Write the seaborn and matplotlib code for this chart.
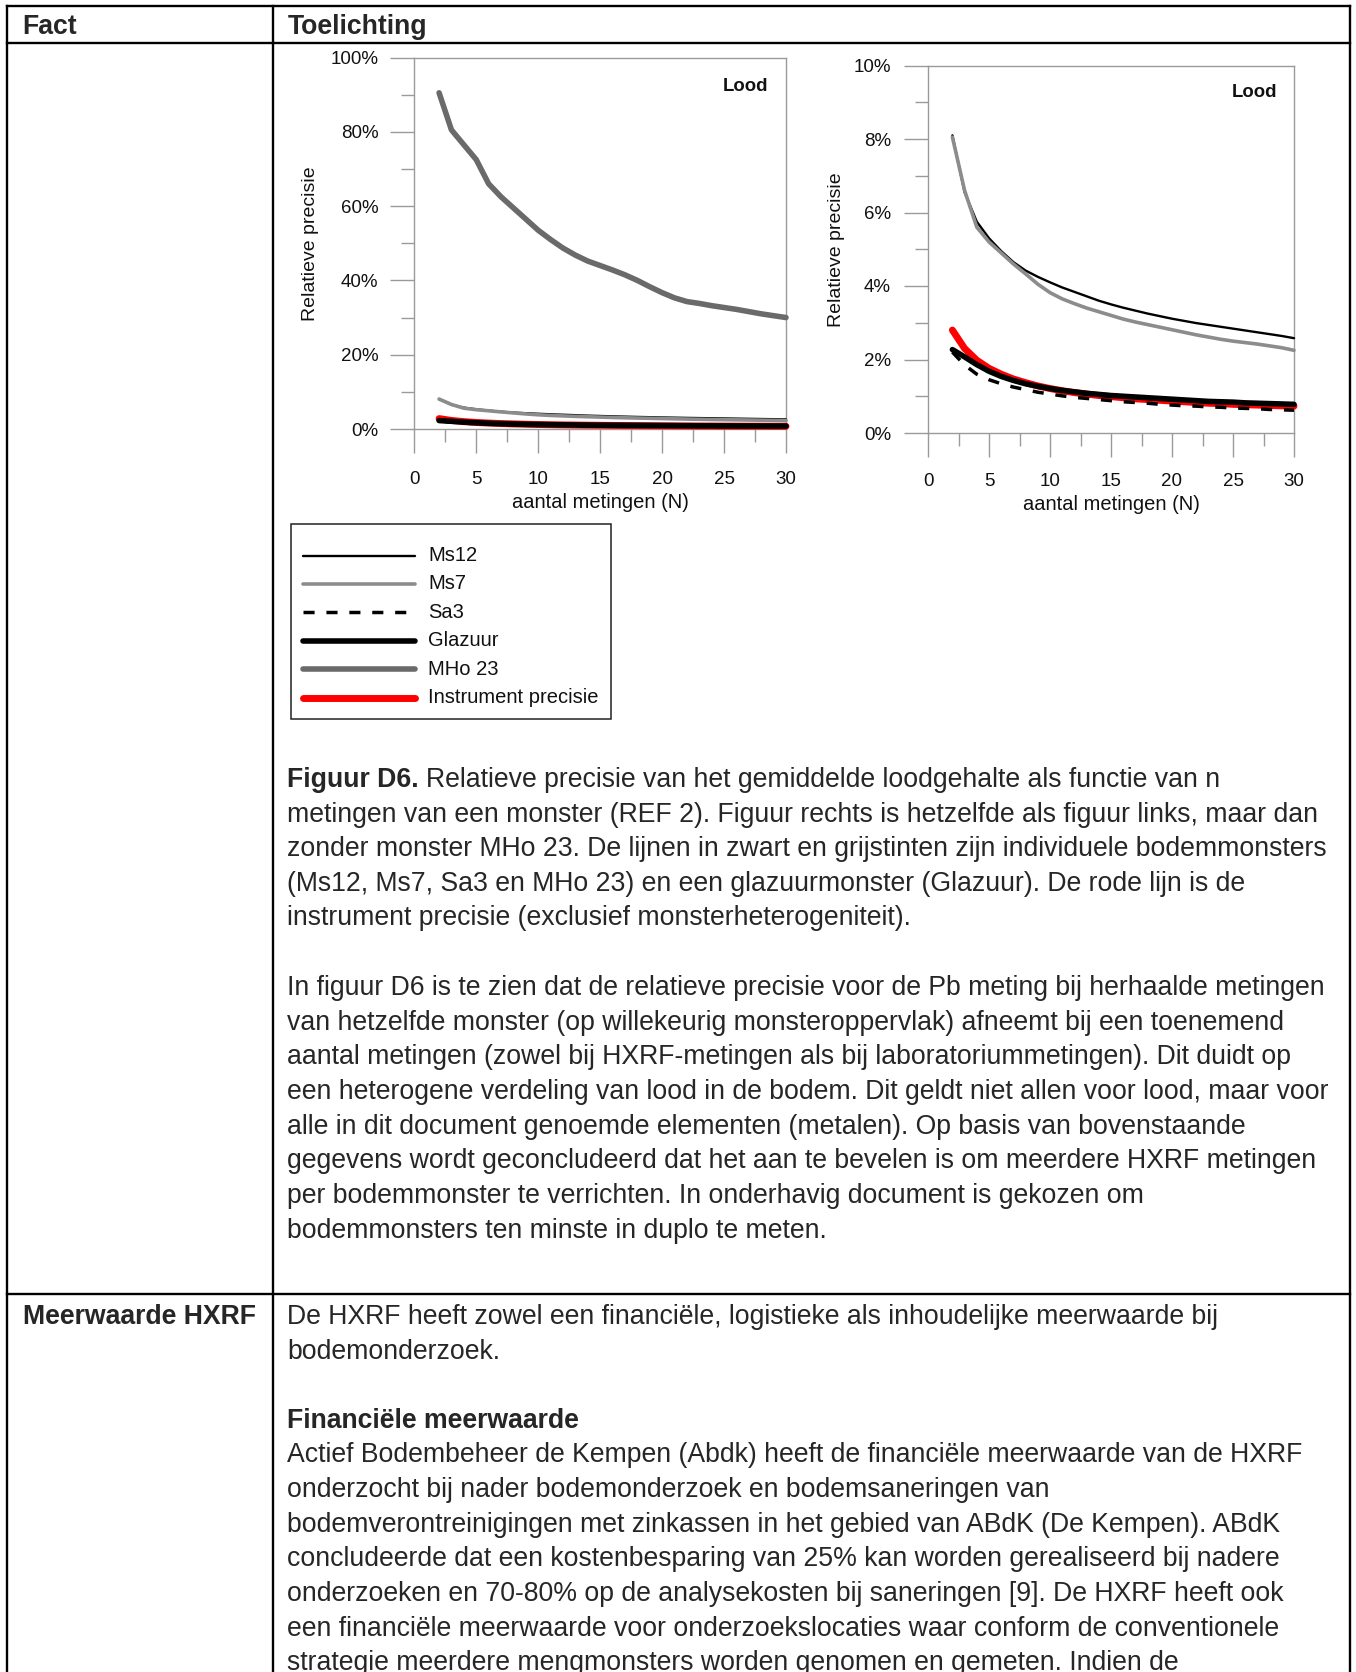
import matplotlib
matplotlib.use("Agg")
import matplotlib.pyplot as plt
from matplotlib.patches import Rectangle
from matplotlib.lines import Line2D
from matplotlib.ticker import MultipleLocator, FuncFormatter
import seaborn as sns

# ---------------------------------------------------------------- data
# number of repeated measurements of one sample
n_meas = list(range(2, 31))

# relative precision of the mean lead content (%) per sample
ms12 = [8.10, 6.55, 5.75, 5.30, 4.95, 4.65, 4.42, 4.25, 4.10, 3.96, 3.84, 3.72,
        3.60, 3.50, 3.41, 3.33, 3.25, 3.18, 3.11, 3.05, 2.99, 2.94, 2.89, 2.84,
        2.79, 2.74, 2.69, 2.64, 2.58]
ms7 = [8.05, 6.60, 5.60, 5.20, 4.90, 4.60, 4.33, 4.05, 3.82, 3.65, 3.52, 3.40,
       3.30, 3.20, 3.10, 3.02, 2.95, 2.88, 2.81, 2.74, 2.67, 2.61, 2.55, 2.50,
       2.46, 2.42, 2.37, 2.32, 2.25]
sa3 = [2.20, 1.85, 1.60, 1.45, 1.34, 1.25, 1.18, 1.11, 1.06, 1.01, 0.97, 0.94,
       0.91, 0.88, 0.85, 0.83, 0.81, 0.78, 0.76, 0.74, 0.73, 0.71, 0.70, 0.68,
       0.67, 0.66, 0.64, 0.63, 0.62]
glazuur = [2.27, 2.07, 1.86, 1.68, 1.54, 1.43, 1.34, 1.27, 1.21, 1.16, 1.12, 1.08,
           1.05, 1.02, 1.00, 0.98, 0.96, 0.94, 0.92, 0.90, 0.88, 0.86, 0.85, 0.84,
           0.82, 0.81, 0.80, 0.79, 0.78]
mho23 = [90.5, 80.5, 76.5, 72.5, 66.0, 62.5, 59.5, 56.5, 53.5, 51.0, 48.7, 46.8,
         45.2, 44.0, 42.8, 41.5, 40.0, 38.3, 36.7, 35.3, 34.3, 33.8, 33.2, 32.7,
         32.2, 31.6, 31.0, 30.5, 30.0]
instrument = [2.80, 2.30, 1.98, 1.76, 1.60, 1.47, 1.37, 1.28, 1.21, 1.15, 1.10, 1.06,
              1.02, 0.99, 0.96, 0.93, 0.91, 0.89, 0.87, 0.85, 0.83, 0.81, 0.80, 0.78,
              0.77, 0.76, 0.75, 0.74, 0.73]

series_names = ["Ms12", "Ms7", "Sa3", "Glazuur", "MHo 23", "Instrument precisie"]
series_values = {"Ms12": ms12, "Ms7": ms7, "Sa3": sa3, "Glazuur": glazuur,
                 "MHo 23": mho23, "Instrument precisie": instrument}

x_label = "aantal metingen (N)"
y_label = "Relatieve precisie"
panel_title = "Lood"

header_left = "Fact"
header_right = "Toelichting"

caption_bold = "Figuur D6."
caption_lines = [
    "Relatieve precisie van het gemiddelde loodgehalte als functie van n",
    "metingen van een monster (REF 2). Figuur rechts is hetzelfde als figuur links, maar dan",
    "zonder monster MHo 23. De lijnen in zwart en grijstinten zijn individuele bodemmonsters",
    "(Ms12, Ms7, Sa3 en MHo 23) en een glazuurmonster (Glazuur). De rode lijn is de",
    "instrument precisie (exclusief monsterheterogeniteit).",
]
paragraph_lines = [
    "In figuur D6 is te zien dat de relatieve precisie voor de Pb meting bij herhaalde metingen",
    "van hetzelfde monster (op willekeurig monsteroppervlak) afneemt bij een toenemend",
    "aantal metingen (zowel bij HXRF-metingen als bij laboratoriummetingen). Dit duidt op",
    "een heterogene verdeling van lood in de bodem. Dit geldt niet allen voor lood, maar voor",
    "alle in dit document genoemde elementen (metalen). Op basis van bovenstaande",
    "gegevens wordt geconcludeerd dat het aan te bevelen is om meerdere HXRF metingen",
    "per bodemmonster te verrichten. In onderhavig document is gekozen om",
    "bodemmonsters ten minste in duplo te meten.",
]
row2_label = "Meerwaarde HXRF"
row2_intro = [
    "De HXRF heeft zowel een financiële, logistieke als inhoudelijke meerwaarde bij",
    "bodemonderzoek.",
]
row2_heading = "Financiële meerwaarde"
row2_lines = [
    "Actief Bodembeheer de Kempen (Abdk) heeft de financiële meerwaarde van de HXRF",
    "onderzocht bij nader bodemonderzoek en bodemsaneringen van",
    "bodemverontreinigingen met zinkassen in het gebied van ABdK (De Kempen). ABdK",
    "concludeerde dat een kostenbesparing van 25% kan worden gerealiseerd bij nadere",
    "onderzoeken en 70-80% op de analysekosten bij saneringen [9]. De HXRF heeft ook",
    "een financiële meerwaarde voor onderzoekslocaties waar conform de conventionele",
    "strategie meerdere mengmonsters worden genomen en gemeten. Indien de",
]

# ---------------------------------------------------------------- styling
sns.set_theme(style="white")
plt.rcParams["font.family"] = ["Liberation Sans", "DejaVu Sans"]

styles = {
    "Ms12": dict(color="black", lw=1.7, ls="-"),
    "Ms7": dict(color="#8c8c8c", lw=2.6, ls="-"),
    "Sa3": dict(color="black", lw=2.5, ls=(0, (3.2, 3.4))),
    "Glazuur": dict(color="black", lw=4.0, ls="-"),
    "MHo 23": dict(color="#6a6a6a", lw=4.0, ls="-"),
    "Instrument precisie": dict(color="#ff0000", lw=5.0, ls="-"),
}
draw_order = ["MHo 23", "Instrument precisie", "Ms12", "Ms7", "Sa3", "Glazuur"]

W, H = 1356, 1672
fig = plt.figure(figsize=(W / 100, H / 100), dpi=100)

# page layer in pixel coordinates (origin top-left)
page = fig.add_axes([0, 0, 1, 1])
page.set_xlim(0, W)
page.set_ylim(H, 0)
page.axis("off")


def axes_px(x0, y0, x1, y1):
    return fig.add_axes([x0 / W, 1 - y1 / H, (x1 - x0) / W, (y1 - y0) / H])


AX_GREY = "#9a9a9a"


def draw_panel(ax, names, ymax, ymajor, yminor, xpad, ypad, xlab_y, ylab_x, title_xy):
    for i, name in enumerate(draw_order):
        if name not in names:
            continue
        st = styles[name]
        sns.lineplot(x=n_meas, y=series_values[name], ax=ax, color=st["color"],
                     linewidth=st["lw"], linestyle=st["ls"], solid_capstyle="round",
                     dash_capstyle="butt", legend=False, zorder=3 + i, clip_on=False)
    ax.set_xlim(0, 30)
    ax.set_ylim(0, ymax)
    ax.xaxis.set_major_locator(MultipleLocator(5))
    ax.xaxis.set_minor_locator(MultipleLocator(2.5))
    ax.yaxis.set_major_locator(MultipleLocator(ymajor))
    ax.yaxis.set_minor_locator(MultipleLocator(yminor))
    ax.yaxis.set_major_formatter(FuncFormatter(lambda v, p: f"{v:.0f}%"))
    ax.set_facecolor("white")
    for sp in ax.spines.values():
        sp.set_color(AX_GREY)
        sp.set_linewidth(1.0)
        sp.set_visible(True)
    ax.tick_params(which="major", direction="out", length=17.3, width=1.0,
                   color=AX_GREY, labelsize=13.5, labelcolor="#111111")
    ax.tick_params(which="minor", direction="out", length=9.4, width=1.0, color=AX_GREY)
    ax.tick_params(axis="x", which="major", pad=xpad)
    ax.tick_params(axis="y", which="major", pad=ypad)
    ax.tick_params(bottom=True, left=True, which="both")
    ax.set_xlabel(x_label, fontsize=14.5, color="#111111")
    ax.xaxis.set_label_coords(0.5, xlab_y)
    ax.set_ylabel(y_label, fontsize=14, color="#111111", va="center")
    ax.yaxis.set_label_coords(ylab_x, 0.5)
    ax.text(title_xy[0], title_xy[1], panel_title, transform=ax.transAxes,
            ha="right", va="baseline", fontsize=13.3, fontweight="bold", color="#111111")
    ax.grid(False)


# left panel: all samples
ax_l = axes_px(414.3, 57.5, 786, 429)
draw_panel(ax_l, series_names, 100, 20, 10, xpad=13, ypad=8.4,
           xlab_y=-0.172, ylab_x=-0.278, title_xy=(0.9516, 0.9106))

# right panel: without MHo 23
ax_r = axes_px(928, 65.5, 1294, 433)
draw_panel(ax_r, [n for n in series_names if n != "MHo 23"], 10, 2, 1,
           xpad=11.7, ypad=9.4, xlab_y=-0.169, ylab_x=-0.25, title_xy=(0.9536, 0.915))

# ---------------------------------------------------------------- legend box
page.add_patch(Rectangle((291, 524), 320, 195, fill=False, edgecolor="#222222",
                         linewidth=1.1, zorder=2))
leg_y0, leg_dy = 555.5, 28.4
for i, name in enumerate(series_names):
    st = styles[name]
    y = leg_y0 + i * leg_dy
    page.add_line(Line2D([303, 415], [y, y], color=st["color"], linewidth=st["lw"],
                         linestyle=st["ls"], solid_capstyle="round", dash_capstyle="butt"))
    page.text(428, y, name, fontsize=14.5, va="center", ha="left", color="#111111")

# ---------------------------------------------------------------- table
LW_T = 1.7
tab_l, tab_r, col_x = 6.8, 1349.5, 272.5
for y in (6.4, 42.5, 1294):
    page.plot([tab_l, tab_r], [y, y], color="black", lw=LW_T, solid_capstyle="projecting")
for x in (tab_l, col_x, tab_r):
    page.plot([x, x], [6.4, H + 5], color="black", lw=LW_T, solid_capstyle="projecting")

FS = 19.2
TX = 287.3
page.text(22.7, 34.3, header_left, fontsize=FS, fontweight="bold", va="baseline")
page.text(TX, 34.3, header_right, fontsize=FS, fontweight="bold", va="baseline")

renderer = fig.canvas.get_renderer()
LS = 34.6

# caption with bold lead-in
cap_y = 787.0
tb = page.text(TX, cap_y, caption_bold, fontsize=FS, fontweight="bold", va="baseline")
w_bold = tb.get_window_extent(renderer).width
probe_a = page.text(0, 0, "aa", fontsize=FS)
probe_b = page.text(0, 0, "a a", fontsize=FS)
w_space = probe_b.get_window_extent(renderer).width - probe_a.get_window_extent(renderer).width
probe_a.remove()
probe_b.remove()
for i, line in enumerate(caption_lines):
    x = TX + w_bold + w_space if i == 0 else TX
    page.text(x, cap_y + i * LS, line, fontsize=FS, va="baseline")

par_y = 995.3
for i, line in enumerate(paragraph_lines):
    page.text(TX, par_y + i * LS, line, fontsize=FS, va="baseline")

# second row
row2_y = 1324.5
page.text(22.7, row2_y, row2_label, fontsize=FS, fontweight="bold", va="baseline")
for i, line in enumerate(row2_intro):
    page.text(TX, row2_y + i * LS, line, fontsize=FS, va="baseline")
page.text(TX, 1428.0, row2_heading, fontsize=FS, fontweight="bold", va="baseline")
for i, line in enumerate(row2_lines):
    page.text(TX, 1462.5 + i * LS, line, fontsize=FS, va="baseline")

fig.savefig("out.png", dpi=100, facecolor="white")
